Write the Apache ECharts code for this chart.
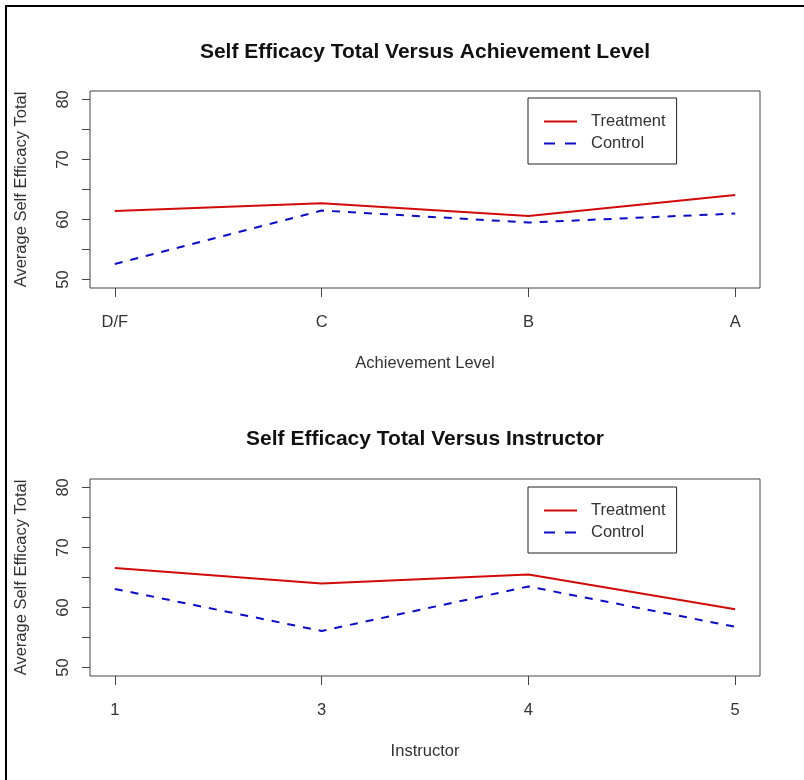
<!DOCTYPE html>
<html>
<head>
<meta charset="utf-8">
<script src="https://cdn.jsdelivr.net/npm/echarts@6/dist/echarts.min.js"></script>
<style>
html,body{margin:0;padding:0;background:#fff;}
#chart{width:804px;height:780px;position:relative;}
#frame{position:absolute;left:5px;top:5px;width:797px;height:800px;border-left:2px solid #000;border-top:2px solid #000;border-right:2px solid #000;pointer-events:none;}
</style>
</head>
<body>
<div id="chart"></div>
<div id="frame"></div>
<script>
const achievementLevels = ['D/F', 'C', 'B', 'A'];
const achievementTreatment = [61.4, 62.7, 60.6, 64.1];
const achievementControl = [52.6, 61.5, 59.5, 61.0];

const instructors = ['1', '3', '4', '5'];
const instructorTreatment = [66.6, 64.0, 65.5, 59.7];
const instructorControl = [63.1, 56.1, 63.5, 56.8];

const yTickValues = [50, 55, 60, 65, 70, 75, 80];
const yLabelValues = [50, 60, 70, 80];

const titleTop = 'Self Efficacy Total Versus Achievement Level';
const titleBottom = 'Self Efficacy Total Versus Instructor';
const yName = 'Average Self Efficacy Total';
const xNameTop = 'Achievement Level';
const xNameBottom = 'Instructor';

const RED = '#d20a0a';
const BLUE = '#0c0cc0';
const FONT = '"Liberation Sans", Arial, sans-serif';
const TXT = '#333';

const chart = echarts.init(document.getElementById('chart'), null, {renderer: 'canvas'});

function xAxisFor(cats, name, gridIndex) {
  const pos = cats.map((c, i) => i + 1);
  return {
    type: 'value', gridIndex: gridIndex, min: 0.88, max: cats.length + 0.12,
    name: name, nameLocation: 'middle', nameGap: 67,
    nameTextStyle: {fontFamily: FONT, fontSize: 16.5, color: TXT},
    axisLine: {show: false},
    axisTick: {show: true, length: 9, customValues: pos, lineStyle: {color: '#444', width: 1}},
    axisLabel: {show: true, customValues: pos, margin: 26, fontFamily: FONT, fontSize: 16.5, color: TXT,
      formatter: v => cats[Math.round(v) - 1]},
    splitLine: {show: false}
  };
}
function yAxisFor(gridIndex) {
  return {
    type: 'value', gridIndex: gridIndex, min: 48.6, max: 81.4,
    name: yName, nameLocation: 'middle', nameGap: 60,
    nameTextStyle: {fontFamily: FONT, fontSize: 16.5, color: TXT},
    axisLine: {show: false},
    axisTick: {show: true, length: 8, customValues: yTickValues, lineStyle: {color: '#444', width: 1}},
    axisLabel: {show: true, customValues: yLabelValues, rotate: 90, margin: 18, fontFamily: FONT, fontSize: 16.5, color: TXT},
    splitLine: {show: false}
  };
}
function lineSeries(name, vals, color, dashed, idx) {
  return {
    type: 'line', name: name, xAxisIndex: idx, yAxisIndex: idx,
    data: vals.map((v, i) => [i + 1, v]),
    symbol: 'none', showSymbol: false,
    lineStyle: {color: color, width: 2, type: dashed ? [8, 8] : 'solid'},
    itemStyle: {color: color},
    animation: false
  };
}
function legendFor(top) {
  return {
    orient: 'vertical', left: 528, top: top,
    data: [
      {name: 'Treatment'},
      {name: 'Control', lineStyle: {type: [11, 10], width: 2}}
    ],
    itemWidth: 33, itemHeight: 16, itemGap: 5,
    padding: [15, 11, 12, 15],
    borderColor: '#222', borderWidth: 1,
    backgroundColor: '#fff',
    itemStyle: {opacity: 0},
    lineStyle: {width: 2},
    textStyle: {fontFamily: FONT, fontSize: 16.5, color: TXT, padding: [0, 0, 0, 9], lineHeight: 16},
    selectedMode: false
  };
}

chart.setOption({
  backgroundColor: '#fff',
  animation: false,
  title: [
    {text: titleTop, left: 425, top: 42, padding: 0, textAlign: 'center', textStyle: {fontFamily: FONT, fontSize: 21, fontWeight: 'bold', color: '#111'}},
    {text: titleBottom, left: 425, top: 429, padding: 0, textAlign: 'center', textStyle: {fontFamily: FONT, fontSize: 21, fontWeight: 'bold', color: '#111'}}
  ],
  grid: [
    {left: 90, top: 91, width: 670, height: 197, show: true, borderColor: '#444', borderWidth: 1, backgroundColor: 'transparent'},
    {left: 90, top: 479, width: 670, height: 197, show: true, borderColor: '#444', borderWidth: 1, backgroundColor: 'transparent'}
  ],
  xAxis: [xAxisFor(achievementLevels, xNameTop, 0), xAxisFor(instructors, xNameBottom, 1)],
  yAxis: [yAxisFor(0), yAxisFor(1)],
  legend: [legendFor(98), legendFor(487)],
  series: [
    lineSeries('Treatment', achievementTreatment, RED, false, 0),
    lineSeries('Control', achievementControl, BLUE, true, 0),
    lineSeries('Treatment', instructorTreatment, RED, false, 1),
    lineSeries('Control', instructorControl, BLUE, true, 1)
  ]
});
</script>
</body>
</html>
